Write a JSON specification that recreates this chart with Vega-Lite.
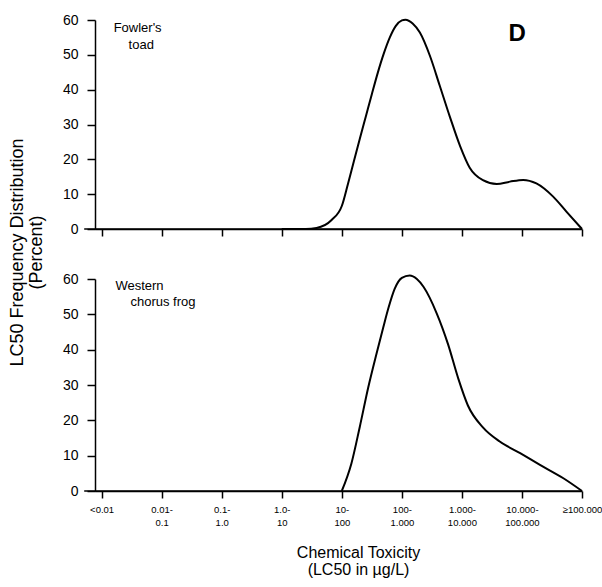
{
  "$schema": "https://vega.github.io/schema/vega-lite/v6.json",
  "autosize": {"type": "none"},
  "padding": {"left": 95, "top": 20, "right": 507, "bottom": 567},
  "background": "white",
  "bounds": "flush",
  "spacing": 50,
  "config": {
    "font": "Liberation Sans",
    "view": {"stroke": null},
    "axis": {"domainColor": "black", "tickColor": "black", "labelColor": "black", "titleColor": "black", "grid": false, "domainWidth": 1.5, "tickWidth": 1.5, "titleFontWeight": "normal", "labelOverlap": false}
  },
  "datasets": {
    "toad": [
      {"idx": 3.0, "pct": 0}, {"idx": 3.4, "pct": 0}, {"idx": 3.58, "pct": 0.3}, {"idx": 3.83, "pct": 2.6},
      {"idx": 4.0, "pct": 6.6}, {"idx": 4.1, "pct": 12.8}, {"idx": 4.2, "pct": 19.4}, {"idx": 4.3, "pct": 25.9},
      {"idx": 4.4, "pct": 32.3}, {"idx": 4.5, "pct": 38.7}, {"idx": 4.6, "pct": 44.9}, {"idx": 4.7, "pct": 50.4},
      {"idx": 4.8, "pct": 55}, {"idx": 4.9, "pct": 58.3}, {"idx": 5.0, "pct": 59.9}, {"idx": 5.06, "pct": 60.1},
      {"idx": 5.18, "pct": 59}, {"idx": 5.3, "pct": 56.4}, {"idx": 5.47, "pct": 49.6}, {"idx": 5.63, "pct": 41.2},
      {"idx": 5.8, "pct": 32.2}, {"idx": 5.97, "pct": 23.8}, {"idx": 6.13, "pct": 17.6}, {"idx": 6.35, "pct": 14.0},
      {"idx": 6.58, "pct": 12.9}, {"idx": 6.8, "pct": 13.6}, {"idx": 7.02, "pct": 14.1}, {"idx": 7.24, "pct": 13.1},
      {"idx": 7.52, "pct": 9.3}, {"idx": 7.74, "pct": 5}, {"idx": 8.0, "pct": 0}
    ],
    "frog": [
      {"idx": 4.0, "pct": 0}, {"idx": 4.16, "pct": 7.8}, {"idx": 4.3, "pct": 18.2}, {"idx": 4.44, "pct": 29.3},
      {"idx": 4.58, "pct": 39}, {"idx": 4.69, "pct": 46.3}, {"idx": 4.78, "pct": 52}, {"idx": 4.88, "pct": 57.2},
      {"idx": 5.0, "pct": 60.3}, {"idx": 5.13, "pct": 61}, {"idx": 5.25, "pct": 60}, {"idx": 5.36, "pct": 57.8},
      {"idx": 5.58, "pct": 50.3}, {"idx": 5.77, "pct": 41.5}, {"idx": 5.94, "pct": 31.8}, {"idx": 6.1, "pct": 24.2},
      {"idx": 6.35, "pct": 18}, {"idx": 6.63, "pct": 14}, {"idx": 6.97, "pct": 10.7}, {"idx": 7.3, "pct": 7.4},
      {"idx": 7.69, "pct": 3.6}, {"idx": 8.0, "pct": 0}
    ],
    "baseline": [{"idx": -0.29, "to": 8, "pct": 0}],
    "toadNotes": [
      {"idx": 0.6, "pct": 57.7, "label": "Fowler's"},
      {"idx": 0.66, "pct": 52.8, "label": "toad"}
    ],
    "panelLetter": [{"idx": 6.92, "pct": 56, "label": "D"}],
    "frogNotes": [
      {"idx": 0.23, "pct": 58, "label": "Western"},
      {"idx": 0.48, "pct": 53.4, "label": "chorus frog"}
    ]
  },
  "vconcat": [
    {
      "width": 487,
      "height": 209,
      "encoding": {
        "x": {"field": "idx", "type": "quantitative", "scale": {"domain": [-0.11, 8], "nice": false, "zero": false},
          "axis": {"values": [0, 1, 2, 3, 4, 5, 6, 7, 8], "labels": false, "tickSize": 7, "title": null}},
        "y": {"field": "pct", "type": "quantitative", "scale": {"domain": [0, 60], "nice": false},
          "axis": {"values": [0, 10, 20, 30, 40, 50, 60], "tickSize": 8, "labelPadding": 9, "labelFontSize": 14,
            "title": ["LC50 Frequency Distribution", "(Percent)"], "titleFontSize": 18, "titleLineHeight": 19,
            "titleAngle": -90, "titleBaseline": "top", "titleAlign": "center", "titleX": -87, "titleY": 232}}
      },
      "layer": [
        {
          "data": {"name": "toad"},
          "mark": {"type": "line", "interpolate": "monotone", "color": "black", "strokeWidth": 2}
        },
        {
          "data": {"name": "baseline"},
          "mark": {"type": "rule", "color": "black", "strokeWidth": 1.5},
          "encoding": {"x2": {"field": "to"}}
        },
        {
          "data": {"name": "toadNotes"},
          "mark": {"type": "text", "align": "center", "baseline": "middle", "fontSize": 13, "color": "black"},
          "encoding": {"text": {"field": "label"}}
        },
        {
          "data": {"name": "panelLetter"},
          "mark": {"type": "text", "align": "center", "baseline": "middle", "fontSize": 24, "fontWeight": "bold", "color": "black"},
          "encoding": {"text": {"field": "label"}}
        }
      ]
    },
    {
      "width": 487,
      "height": 212,
      "encoding": {
        "x": {"field": "idx", "type": "quantitative", "scale": {"domain": [-0.11, 8], "nice": false, "zero": false},
          "axis": {"values": [0, 1, 2, 3, 4, 5, 6, 7, 8], "tickSize": 7, "labelPadding": 6, "labelFontSize": 9.5,
            "labelLineHeight": 13, "labelBaseline": "top", "labelAlign": "center",
            "labelExpr": "[['<0.01'],['0.01-','0.1'],['0.1-','1.0'],['1.0-','10'],['10-','100'],['100-','1.000'],['1.000-','10.000'],['10.000-','100.000'],['≥100.000']][datum.value]",
            "title": ["Chemical Toxicity", "(LC50 in µg/L)"], "titleFontSize": 16, "titleLineHeight": 17,
            "titleBaseline": "top", "titleAlign": "center", "titleX": 263, "titleY": 53}},
        "y": {"field": "pct", "type": "quantitative", "scale": {"domain": [0, 60], "nice": false},
          "axis": {"values": [0, 10, 20, 30, 40, 50, 60], "tickSize": 8, "labelPadding": 9, "labelFontSize": 14, "title": null}}
      },
      "layer": [
        {
          "data": {"name": "frog"},
          "mark": {"type": "line", "interpolate": "monotone", "color": "black", "strokeWidth": 2}
        },
        {
          "data": {"name": "baseline"},
          "mark": {"type": "rule", "color": "black", "strokeWidth": 1.5},
          "encoding": {"x2": {"field": "to"}}
        },
        {
          "data": {"name": "frogNotes"},
          "mark": {"type": "text", "align": "left", "baseline": "middle", "fontSize": 13, "color": "black"},
          "encoding": {"text": {"field": "label"}}
        }
      ]
    }
  ]
}
